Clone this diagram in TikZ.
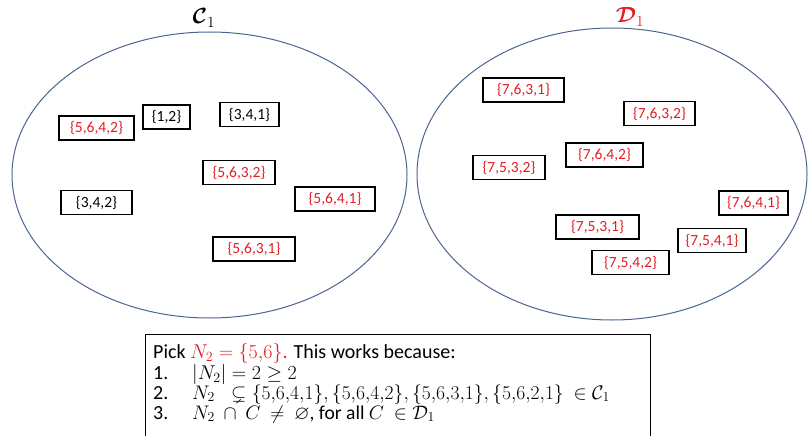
\RequirePackage{fix-cm}
\documentclass[tikz,border=0pt]{standalone}
\usepackage{amsmath}
\usepackage{amssymb}
\usepackage{fontspec}
\setmainfont{Carlito}
\definecolor{myred}{RGB}{226,30,36}
\definecolor{ellblue}{RGB}{75,100,145}
\newcommand{\nset}[1]{\{#1\}}
\begin{document}
\begin{tikzpicture}[x=1pt,y=-1pt,
  sbox/.style={draw=black, line width=1.1pt, minimum height=24pt, inner sep=0pt,
    font=\fontsize{15.5}{17}\selectfont},
  rbox/.style={sbox, text=myred},
  setell/.style={draw=ellblue, line width=1pt},
  lbl/.style={font=\fontsize{22}{24}\selectfont},
  note/.style={anchor=base west, inner sep=0pt, font=\fontsize{20}{21}\selectfont},
  mnote/.style={note, font=\fontsize{19.6}{21}\selectfont}
]
\useasboundingbox (0,0) rectangle (808,436);
% ellipses
\draw[setell] (209.5,175) ellipse [x radius=197.5, y radius=143];
\draw[setell] (612,174) ellipse [x radius=195, y radius=146];
% labels
\node[lbl] (lc) at (204,18) {$\boldsymbol{\mathcal{C}}_1$};
\node[lbl, text=myred] (ld) at (630,17) {$\boldsymbol{\mathcal{D}}_1$};
% left set
\node[rbox, minimum width=75pt] (a1) at (96.5,128) {\{5,6,4,2\}};
\node[sbox, minimum width=47pt] (a2) at (166.5,117) {\{1,2\}};
\node[sbox, minimum width=59pt] (a3) at (249.5,114.5) {\{3,4,1\}};
\node[rbox, minimum width=72pt] (a4) at (239,172.5) {\{5,6,3,2\}};
\node[sbox, minimum width=71pt] (a5) at (96.5,202.5) {\{3,4,2\}};
\node[rbox, minimum width=80pt] (a6) at (335,199) {\{5,6,4,1\}};
\node[rbox, minimum width=82pt] (a7) at (254,249) {\{5,6,3,1\}};
% right set
\node[rbox, minimum width=81pt] (b1) at (523.5,90) {\{7,6,3,1\}};
\node[rbox, minimum width=71pt] (b2) at (659.5,113.5) {\{7,6,3,2\}};
\node[rbox, minimum width=77pt] (b3) at (604.5,155) {\{7,6,4,2\}};
\node[rbox, minimum width=72pt] (b4) at (509,167.5) {\{7,5,3,2\}};
\node[rbox, minimum width=69pt] (b5) at (753.5,203) {\{7,6,4,1\}};
\node[rbox, minimum width=83pt] (b6) at (597.5,227) {\{7,5,3,1\}};
\node[rbox, minimum width=68pt] (b7) at (712,240.5) {\{7,5,4,1\}};
\node[rbox, minimum width=77pt] (b8) at (630.5,262.5) {\{7,5,4,2\}};
% bottom note box
\draw[line width=1pt] (145,334) rectangle (650,445);
\node[note] (t0) at (153,358) {Pick \textcolor{myred}{$N_2=\nset{5{,}6}$.} This works because:};
\node[note] (n1) at (153,379) {1.};
\node[note] (t1) at (192,379) {$|N_2| = 2 \geq 2$};
\node[note] (n2) at (153,399) {2.};
\node[mnote] (t2) at (192,399) {$N_2\;\;\subsetneq \nset{5{,}6{,}4{,}1}, \nset{5{,}6{,}4{,}2}, \nset{5{,}6{,}3{,}1}, \nset{5{,}6{,}2{,}1}\ \in \mathcal{C}_1$};
\node[note] (n3) at (153,419) {3.};
\node[mnote] (t3) at (192,419) {$N_2\ \cap\ C\ \neq\ \varnothing$, for all $C\ \in \mathcal{D}_1$};
\end{tikzpicture}
\end{document}
